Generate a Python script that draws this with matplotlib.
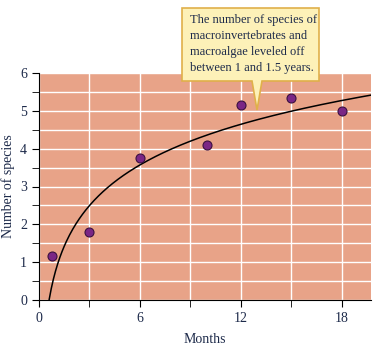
import numpy as np
import matplotlib.pyplot as plt
from matplotlib.patches import Polygon

plt.rcParams['font.family'] = ['Liberation Serif', 'DejaVu Serif']

# observed species counts
months = [0.8, 3, 6, 10, 12, 15, 18]
species = [1.15, 1.8, 3.75, 4.1, 5.15, 5.35, 5.0]

# logarithmic trend line  y = a * ln(x / x0)
fit_a = 1.55
fit_x0 = 0.6

xticks = [0, 6, 12, 18]
yticks = [0, 1, 2, 3, 4, 5, 6]
note = "The number of species of\nmacroinvertebrates and\nmacroalgae leveled off\nbetween 1 and 1.5 years."

W, H = 377, 349
fig = plt.figure(figsize=(W / 100, H / 100), dpi=100)
ax = fig.add_axes([39 / W, 1 - 300 / H, 332 / W, 227 / H])

ax.set_facecolor('#E8A388')
ax.set_xlim(0, 19.75)
ax.set_ylim(0, 6)
ax.set_xticks(np.arange(0, 19, 3), minor=True)
ax.set_xticks(xticks)
ax.set_yticks(np.arange(0, 6.01, 0.5), minor=True)
ax.set_yticks(yticks)
ax.grid(True, which='both', color='white', lw=1)
ax.set_axisbelow(True)
for s in ['top', 'right']:
    ax.spines[s].set_visible(False)
ax.tick_params(which='both', direction='out', length=5, color='black',
               labelsize=10, labelcolor='#1d2a4a')
ax.tick_params(which='minor', labelleft=False, labelbottom=False)

xs = np.linspace(fit_x0, 19.75, 300)
ax.plot(xs, fit_a * np.log(xs / fit_x0), color='black', lw=1.1, zorder=3)
ax.scatter(months, species, s=42, color='#7A2685', edgecolor='#3a1040',
           lw=0.8, zorder=4, clip_on=False)

ax.set_xlabel('Months', fontsize=10, color='#1d2a4a', labelpad=6)
ax.set_ylabel('Number of species', fontsize=10, color='#1d2a4a', labelpad=4)

# callout box with pointer (figure pixel coords)
pts = [(182, 8), (319, 8), (319, 81), (262, 81), (257, 110), (252, 81), (182, 81)]
poly = Polygon([(x / W, 1 - y / H) for x, y in pts], closed=True,
               transform=fig.transFigure, facecolor='#FDF1B8',
               edgecolor='#E0B04A', lw=1.2, zorder=10)
fig.patches.append(poly)
fig.text(190 / W, 1 - 44 / H, note, ha='left', va='center', fontsize=9,
         color='#1d2a4a', linespacing=1.45, zorder=11)

fig.savefig('out.png', dpi=100)
